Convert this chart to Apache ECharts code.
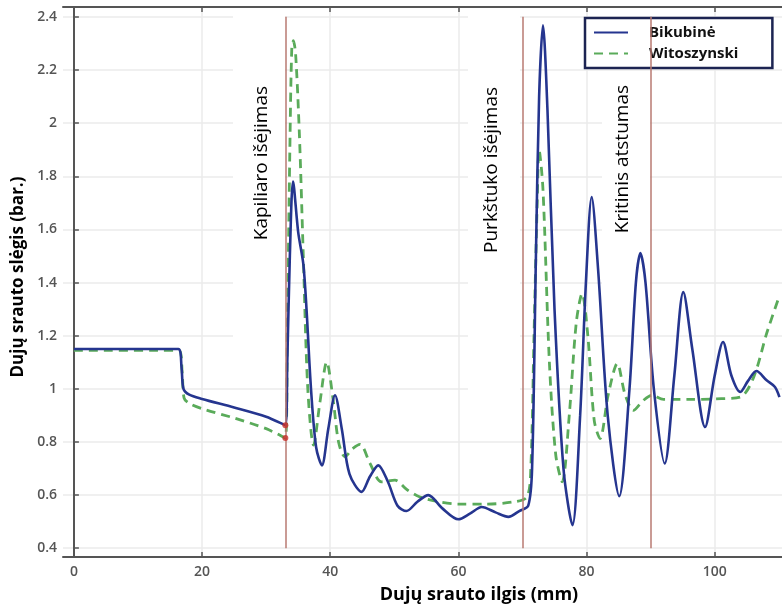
<!DOCTYPE html>
<html>
<head>
<meta charset="utf-8">
<script src="https://cdn.jsdelivr.net/npm/echarts@6/dist/echarts.min.js"></script>
<style>
  html, body { margin: 0; padding: 0; background: #fff; }
  #chart { width: 782px; height: 608px; }
</style>
</head>
<body>
<div id="chart"></div>
<script>
// tick values
const xTicks = [0, 20, 40, 60, 80, 100];
const yTicks = [0.4, 0.6, 0.8, 1, 1.2, 1.4, 1.6, 1.8, 2, 2.2, 2.4];

// Bikubinė (solid blue)
const bikX = [0, 16.3, 16.8, 17.1, 18, 20, 25, 30, 33, 33.3, 33.7, 34.2, 35.0, 35.8, 36.3, 37.0, 37.8, 38.7, 39.7, 40.75,
  41.8, 43.0, 44.9, 46.2, 47.5, 49.0, 50.5, 51.9, 53.6, 55.3, 57.5, 60.0, 61.8, 63.65, 65.8, 67.8, 69.5, 70.9, 71.5, 72.1,
  72.6, 73.2, 73.9, 75, 76.4, 77.8, 79.0, 79.9, 80.8, 81.8, 83.3, 85.1, 86.7, 87.7, 88.4, 89.2, 90.5, 92.2, 93.7, 95.1,
  96.5, 98.5, 100, 101.3, 102.6, 104.0, 105.2, 106.5, 108.1, 109.4, 110.1];
const bikY = [1.15, 1.15, 1.08, 1.0, 0.978, 0.962, 0.93, 0.895, 0.863, 1.1, 1.5, 1.78, 1.59, 1.47, 1.30, 1.0, 0.78, 0.712, 0.85, 0.976,
  0.85, 0.68, 0.612, 0.67, 0.712, 0.65, 0.56, 0.54, 0.575, 0.60, 0.55, 0.509, 0.53, 0.555, 0.535, 0.518, 0.54, 0.56, 0.7, 1.5,
  2.1, 2.368, 2.05, 1.3, 0.7, 0.487, 0.9, 1.4, 1.722, 1.45, 0.9, 0.596, 1.0, 1.4, 1.511, 1.4, 1.0, 0.719, 1.05, 1.364,
  1.15, 0.856, 1.05, 1.176, 1.05, 0.988, 1.03, 1.067, 1.032, 1.007, 0.969];

// Witoszynski (dashed green)
const witX = [0, 16.4, 16.9, 17.2, 18, 20, 25, 30, 33, 33.3, 33.7, 34.0, 34.25, 34.6, 35.2, 35.8, 36.5, 37.4, 38.4, 39.45,
  40.5, 41.3, 42.3, 43.5, 44.65, 46.2, 48.0, 50.1, 52, 54, 57.1, 60, 64, 68.5, 70.7, 71.3, 71.8, 72.3, 72.6, 73.2,
  74.2, 75.2, 76.2, 77.3, 78.4, 79.3, 80.2, 81.2, 82.1, 83.4, 84.8, 86.0, 87.3, 88.8, 90.2, 92.0, 96, 100, 104, 106.1,
  108.1, 110.1];
const witY = [1.145, 1.145, 1.06, 0.965, 0.945, 0.925, 0.89, 0.85, 0.815, 1.2, 1.9, 2.28, 2.31, 2.26, 1.95, 1.5, 1.0, 0.788, 0.95, 1.101,
  0.95, 0.8, 0.744, 0.775, 0.791, 0.72, 0.65, 0.656, 0.62, 0.593, 0.574, 0.566, 0.566, 0.574, 0.593, 0.7, 1.2, 1.7, 1.898, 1.75,
  1.1, 0.75, 0.65, 0.9, 1.25, 1.358, 1.2, 0.88, 0.813, 0.98, 1.095, 0.98, 0.919, 0.955, 0.976, 0.96, 0.96, 0.962, 0.969, 1.045,
  1.208, 1.35];

// vertical marker positions and their labels
const markerX = [33, 70, 90];
const markerNames = ['Kapiliaro išėjimas', 'Purkštuko išėjimas', 'Kritinis atstumas'];
const redDots = [[33, 0.863], [33, 0.815]];

const pairs = (xs, ys) => xs.map((x, i) => [x, ys[i]]);

const chart = echarts.init(document.getElementById('chart'));

const gridLine = { show: true, lineStyle: { color: '#ebebeb', width: 1.5 } };
const axisLine = { show: true, lineStyle: { color: '#555', width: 2 } };
const tick = { show: true, inside: true, length: 5, lineStyle: { color: '#555', width: 1.5 } };
const labelFont = { color: '#555', fontSize: 14, fontWeight: 600, fontFamily: 'Open Sans' };
const noteFont = '19px "Liberation Sans Narrow", "Open Sans"';

// white boxes that sit behind the rotated marker texts
const boxes = [[233, 10, 52, 355], [468, 10, 52, 390], [602, 72, 48, 230]];

const option = {
  backgroundColor: '#fff',
  animation: false,
  grid: { left: 63, right: 0, top: 7, bottom: 51, containLabel: false },
  xAxis: [{
    type: 'value', min: -1.7, max: 110.5,
    axisLine: axisLine,
    axisTick: Object.assign({ customValues: xTicks }, tick),
    axisLabel: Object.assign({ customValues: xTicks, margin: 8 }, labelFont),
    splitLine: gridLine
  }, {
    type: 'value', min: -1.7, max: 110.5, position: 'top',
    axisLine: axisLine,
    axisTick: Object.assign({ customValues: xTicks }, tick),
    axisLabel: { show: false },
    splitLine: { show: false }
  }],
  yAxis: {
    type: 'value', min: 0.367, max: 2.437,
    axisLine: axisLine,
    axisTick: Object.assign({ customValues: yTicks }, tick),
    axisLabel: Object.assign({ customValues: yTicks, margin: 6 }, labelFont),
    splitLine: gridLine
  },
  legend: {
    orient: 'vertical',
    left: 585, top: 18,
    itemWidth: 34, itemHeight: 14, itemGap: 6,
    backgroundColor: '#fff',
    borderColor: '#1c2452', borderWidth: 2.5, borderRadius: 0,
    padding: [7, 34, 7, 8],
    itemStyle: { opacity: 0 },
    textStyle: { color: '#111', fontSize: 15, fontWeight: 'bold', fontFamily: 'Open Sans', padding: [0, 0, 0, 16] },
    data: ['Bikubinė', 'Witoszynski']
  },
  graphic: boxes.map(b => ({
    type: 'rect', z: 1, silent: true,
    shape: { x: b[0], y: b[1], width: b[2], height: b[3] },
    style: { fill: '#fff' }
  })).concat([
    { type: 'text', x: 262, y: 86, rotation: Math.PI / 2, z: 10,
      style: { text: markerNames[0], fill: '#000', font: noteFont, align: 'right', verticalAlign: 'middle' } },
    { type: 'text', x: 492, y: 87, rotation: Math.PI / 2, z: 10,
      style: { text: markerNames[1], fill: '#000', font: noteFont, align: 'right', verticalAlign: 'middle' } },
    { type: 'text', x: 623, y: 85, rotation: Math.PI / 2, z: 10,
      style: { text: markerNames[2], fill: '#000', font: noteFont, align: 'right', verticalAlign: 'middle' } },
    { type: 'text', x: 479, y: 595, z: 10,
      style: { text: 'Dujų srauto ilgis (mm)', fill: '#000', font: 'bold 18px "Open Sans"', align: 'center', verticalAlign: 'middle' } },
    { type: 'text', x: 18, y: 277, rotation: Math.PI / 2, z: 10,
      style: { text: 'Dujų srauto slėgis (bar.)', fill: '#000', font: 'bold 17px "Open Sans"', align: 'center', verticalAlign: 'middle' } }
  ]),
  series: [
    {
      name: 'Witoszynski', type: 'line', z: 3,
      data: pairs(witX, witY),
      showSymbol: false, symbol: 'none',
      smooth: 0.3,
      lineStyle: { color: '#5aab5a', width: 2.8, type: [9, 6] },
      itemStyle: { color: '#5aab5a' }
    },
    {
      name: 'Bikubinė', type: 'line', z: 4,
      data: pairs(bikX, bikY),
      showSymbol: false, symbol: 'none',
      smooth: 0.3,
      lineStyle: { color: '#25358f', width: 2.6 },
      itemStyle: { color: '#25358f' },
      markLine: {
        silent: true, symbol: 'none', label: { show: false },
        lineStyle: { color: '#b87a72', width: 1.5, type: 'solid' },
        data: markerX.map(x => [{ coord: [x, 0.4] }, { coord: [x, 2.4] }])
      }
    },
    {
      type: 'scatter', z: 5,
      data: redDots,
      symbolSize: 6,
      itemStyle: { color: '#c8302a' }
    }
  ]
};

chart.setOption(option);
</script>
</body>
</html>
